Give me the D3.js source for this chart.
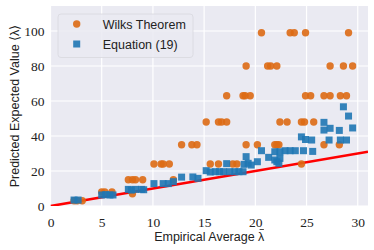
<!DOCTYPE html>
<html>
<head>
<meta charset="utf-8">
<script src="https://cdn.jsdelivr.net/npm/d3@7"></script>
<style>
  body { margin: 0; background: #fff; }
  svg { display: block; }
</style>
</head>
<body>
<svg id="chart" width="374" height="250"></svg>
<script>
// values
const xTicks = [0, 5, 10, 15, 20, 25, 30]
const yTicks = [0, 20, 40, 60, 80, 100]

// Wilks Theorem (orange circles)
const wilksX = [2.3, 2.6, 3.1,
  5.0, 5.3, 6.0, 8.0,
  7.6, 8.0, 8.3, 9.0, 12.0,
  10.1, 10.8, 11.0, 11.6, 15.6, 16.4, 17.8, 18.2, 24.5,
  12.8, 13.8, 14.3, 19.1, 20.2, 21.9, 22.1, 22.3, 26.7, 28.2,
  15.2, 16.4, 16.7, 17.2, 22.4, 23.1, 24.5, 24.8, 25.7,
  17.2, 18.8, 19.0, 19.5, 24.9, 25.4, 26.7, 27.3, 28.3, 28.9,
  19.1, 21.2, 21.5, 22.1, 27.3, 28.6, 29.5,
  20.6, 23.4, 23.8, 24.9, 29.1]
const wilksY = [3, 3, 3,
  8, 8, 8, 7,
  15, 15, 15, 15, 15,
  24, 24, 24, 24, 24, 24, 24, 24, 24,
  35, 35, 35, 35, 35, 35, 35, 35, 35, 35,
  48, 48, 48, 48, 48, 48, 48, 48, 48,
  63, 63, 63, 63, 63, 63, 63, 63, 63, 63,
  80, 80, 80, 80, 80, 80, 80,
  99, 99, 99, 99, 99]

// Equation (19) (blue squares)
const eqX = [2.3, 2.7,
  5.0, 5.4, 5.8, 6.1,
  7.6, 7.9, 8.3, 8.9, 9.1,
  10.1, 11.0, 11.5, 12.0,
  12.8, 13.9, 14.4,
  15.2, 15.6, 16.1, 16.5, 16.9,
  17.2, 17.5, 18.0, 18.4, 18.8,
  18.9, 19.1, 19.3, 19.6,
  20.2, 20.6, 21.3, 21.9, 21.9, 22.1, 22.3, 22.4, 22.4, 22.9, 23.4, 23.9,
  24.5, 24.7, 24.9, 25.5, 25.6,
  26.7, 26.7, 27.3, 27.2, 28.2, 28.3, 28.9, 28.6, 29.1, 29.5]
const eqY = [3.4, 3.4,
  6.3, 6.5, 6.3, 6.3,
  9.5, 9.1, 9.5, 9.5, 9.3,
  12.8, 12.8, 12.8, 13.9,
  16.5, 16.6, 15.8,
  20.2, 19.4, 19.6, 19.6, 19.6,
  24.2, 19.6, 19.6, 19.6, 19.6,
  23.8, 28.2, 24.4, 23.4,
  25.3, 31.6, 27.8, 31.0, 26.3, 25.3, 24.4, 27.2, 31.0, 31.6, 31.6, 31.6,
  39.5, 31.6, 38.0, 37.7, 31.2,
  47.8, 43.4, 44.4, 37.7, 43.2, 37.7, 37.7, 56.7, 51.4, 44.6]

const svg = d3.select("#chart")
const margin = {top: 6, right: 6, bottom: 44, left: 50.5}
const width = 374 - margin.left - margin.right
const height = 250 - margin.top - margin.bottom

const x = d3.scaleLinear().domain([0, 31]).range([0, width])
const y = d3.scaleLinear().domain([0, 114.3]).range([height, 0])

const g = svg.append('g').attr('transform', `translate(${margin.left},${margin.top})`)

// seaborn darkgrid background
g.append('rect')
  .attr('width', width).attr('height', height)
  .attr('fill', '#EAEAF2')

// grid lines
g.append('g').selectAll('line.gx').data(xTicks).join('line')
  .attr('x1', d => x(d)).attr('x2', d => x(d))
  .attr('y1', 0).attr('y2', height)
  .attr('stroke', '#fff').attr('stroke-width', 1.2)
g.append('g').selectAll('line.gy').data(yTicks).join('line')
  .attr('x1', 0).attr('x2', width)
  .attr('y1', d => y(d)).attr('y2', d => y(d))
  .attr('stroke', '#fff').attr('stroke-width', 1.2)

// axes, tick labels only
const xAxis = g.append('g')
  .attr('transform', `translate(0,${height})`)
  .call(d3.axisBottom(x).tickValues(xTicks).tickSize(0).tickPadding(11))
const yAxis = g.append('g')
  .call(d3.axisLeft(y).tickValues(yTicks).tickSize(0).tickPadding(6))
;[xAxis, yAxis].forEach(a => {
  a.select('.domain').remove()
  a.selectAll('text')
    .attr('font-family', '"Liberation Serif", serif')
    .attr('font-size', 13.5)
    .attr('fill', '#222')
})

// clip so the line stops at the plot edge
svg.append('clipPath').attr('id', 'clip')
  .append('rect').attr('width', width).attr('height', height)
const plot = g.append('g').attr('clip-path', 'url(#clip)')

// y = x reference line
plot.append('line')
  .attr('x1', x(0)).attr('y1', y(0))
  .attr('x2', x(31)).attr('y2', y(31))
  .attr('stroke', '#ff0000').attr('stroke-width', 2.6)

const orange = '#dd6a14'
const blue = '#1f77b4'

plot.append('g').selectAll('circle').data(d3.range(wilksX.length)).join('circle')
  .attr('cx', i => x(wilksX[i]))
  .attr('cy', i => y(wilksY[i]))
  .attr('r', 3.7)
  .attr('fill', orange)
  .attr('fill-opacity', 0.9)

const sq = 7
plot.append('g').selectAll('rect').data(d3.range(eqX.length)).join('rect')
  .attr('x', i => x(eqX[i]) - sq / 2)
  .attr('y', i => y(eqY[i]) - sq / 2)
  .attr('width', sq).attr('height', sq)
  .attr('fill', blue)
  .attr('fill-opacity', 0.9)

// legend
const legend = svg.append('g')
legend.append('rect')
  .attr('x', 58).attr('y', 14).attr('width', 135).attr('height', 43.5)
  .attr('rx', 3)
  .attr('fill', '#EAEAF2').attr('fill-opacity', 0.85)
  .attr('stroke', '#d8d8de').attr('stroke-width', 0.8)
legend.append('circle')
  .attr('cx', 76.7).attr('cy', 24).attr('r', 3.7)
  .attr('fill', orange).attr('fill-opacity', 0.9)
legend.append('rect')
  .attr('x', 76.7 - sq / 2).attr('y', 44 - sq / 2).attr('width', sq).attr('height', sq)
  .attr('fill', blue).attr('fill-opacity', 0.9)
const legendNames = ['Wilks Theorem', 'Equation (19)']
legend.selectAll('text').data(legendNames).join('text')
  .attr('x', 102.7)
  .attr('y', (d, i) => 28.8 + i * 20)
  .attr('font-family', '"Liberation Sans", Arial, sans-serif')
  .attr('font-size', 12.5)
  .attr('fill', '#222')
  .text(d => d)

// axis titles
const xTitle = svg.append('text')
  .attr('x', margin.left + width / 2)
  .attr('y', 240.5)
  .attr('text-anchor', 'middle')
  .attr('font-family', '"Liberation Sans", Arial, sans-serif')
  .attr('font-size', 12.5)
  .attr('fill', '#222')
  .text('Empirical Average \u03BB')

// bar over the lambda
const lastChar = xTitle.text().length - 1
const box = xTitle.node().getExtentOfChar(lastChar)
svg.append('line')
  .attr('x1', box.x + 1.5).attr('x2', box.x + box.width - 0.5)
  .attr('y1', 229.5).attr('y2', 229.5)
  .attr('stroke', '#222').attr('stroke-width', 0.8)

svg.append('text')
  .attr('transform', `translate(19,${margin.top + height / 2}) rotate(-90)`)
  .attr('text-anchor', 'middle')
  .attr('font-family', '"Liberation Sans", Arial, sans-serif')
  .attr('font-size', 12.5)
  .attr('fill', '#222')
  .text('Predicted Expected Value \u27E8\u03BB\u27E9')
</script>
</body>
</html>
